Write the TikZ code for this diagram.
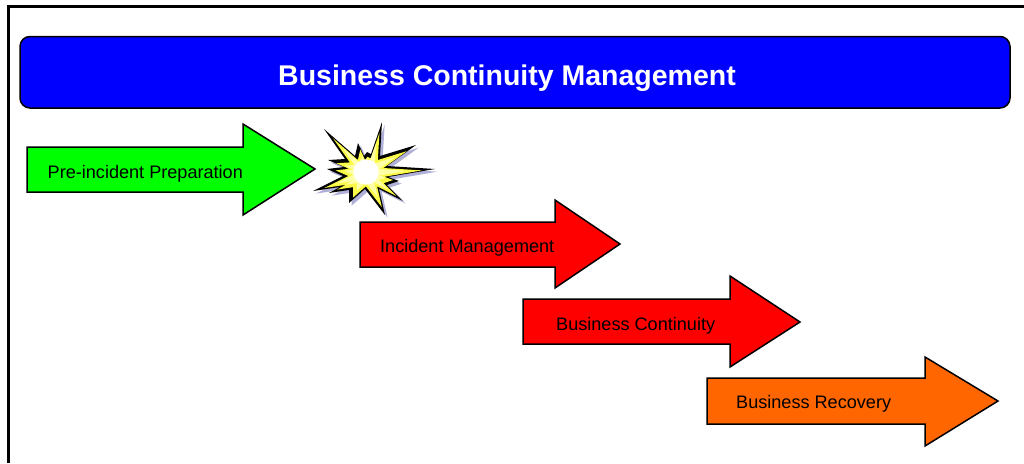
\documentclass[tikz,border=0pt]{standalone}
\usepackage{fontspec}
\setmainfont{Liberation Sans}
\tikzset{
  phase/.style={draw=black, line width=1.5pt, line join=miter},
  phaselabel/.style={anchor=west, inner sep=0pt, text=black, font=\fontsize{18.1}{22}\selectfont},
}
\definecolor{titleblue}{RGB}{0,0,255}
\definecolor{phasegreen}{RGB}{0,255,0}
\definecolor{phasered}{RGB}{255,0,0}
\definecolor{phaseorange}{RGB}{255,102,0}
\definecolor{burstshadow}{RGB}{176,176,216}
\definecolor{burstyellow}{RGB}{250,250,70}
\definecolor{burstpale}{RGB}{255,255,170}
\newcommand{\burstpath}{(-126,-126) -- (-63,-36) -- (-114,-33) -- (-66,-12) -- (-117,-6) -- (-69,15) -- (-159,60) -- (-78,48) -- (-111,66) -- (-51,57) -- (-51,96) -- (-3,54) -- (57,132) -- (39,54) -- (111,90) -- (63,42) -- (99,30) -- (66,18) -- (207,-6) -- (63,-15) -- (150,-78) -- (42,-45) -- (48,-147) -- (15,-51) -- (3,-57) -- (-6,-45) -- (-24,-84) -- (-33,-45) -- cycle}
\begin{document}
\begin{tikzpicture}[x=1pt,y=-1pt]
        \useasboundingbox (0,0) rectangle (1024,463);
        % outer frame
        \coordinate (FB) at (8.5,463);
        \coordinate (FC) at (8.5,6.5);
        \coordinate (FR) at (1024,6.5);
        \draw[line width=3pt] (FB)--(FC)--(FR);
        % title bar
        \draw[fill=titleblue, line width=1.5pt, rounded corners=10pt] (20,36.5) rectangle (1010,108);
        \node[inner sep=0pt, text=white, font=\fontsize{28.5}{34}\selectfont\bfseries] (title) at (507,78) {Business Continuity Management};
        % phases
        \draw[phase, fill=phasegreen] (27,147)--(243,147)--(243,124)--(315,169)--(243,215)--(243,192)--(27,192)--cycle;
        \draw[phase, fill=phasered] (360,222)--(555,222)--(555,200)--(620,244)--(555,288)--(555,267)--(360,267)--cycle;
        \draw[phase, fill=phasered] (523,299)--(730,299)--(730,276)--(800,322)--(730,367)--(730,344)--(523,344)--cycle;
        \draw[phase, fill=phaseorange] (707,378)--(925,378)--(925,357)--(998,401)--(925,446)--(925,424)--(707,424)--cycle;
        \node[phaselabel] (prep) at (47.5,174) {Pre-incident Preparation};
        \node[phaselabel] (incident) at (380,248) {Incident Management};
        \node[phaselabel] (continuity) at (556,326) {Business Continuity};
        \node[phaselabel] (recovery) at (736,404) {Business Recovery};
        % burst
        \begin{scope}[shift={(366,171)}, x=0.333pt, y=-0.333pt]
          \fill[burstshadow, shift={(8,8)}] \burstpath;
          \fill[black] \burstpath;
          \fill[burstyellow, shift={(2,3)}, scale=0.8] \burstpath;
          \fill[burstpale, shift={(2,3)}, scale=0.58] \burstpath;
          \fill[white] (0,3) circle (38);
        \end{scope}
    \end{tikzpicture}
\end{document}
